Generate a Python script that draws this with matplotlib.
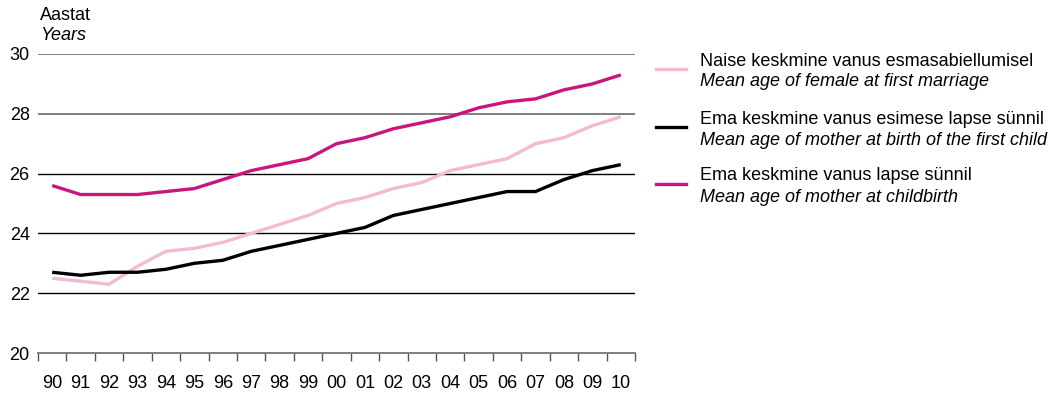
import matplotlib
matplotlib.use("Agg")
import matplotlib.pyplot as plt
import numpy as np
from matplotlib.lines import Line2D

plt.rcParams["font.family"] = ["Liberation Sans", "DejaVu Sans"]

years = ["90", "91", "92", "93", "94", "95", "96", "97", "98", "99", "00",
         "01", "02", "03", "04", "05", "06", "07", "08", "09", "10"]

marriage = [22.5, 22.4, 22.3, 22.9, 23.4, 23.5, 23.7, 24.0, 24.3, 24.6, 25.0,
            25.2, 25.5, 25.7, 26.1, 26.3, 26.5, 27.0, 27.2, 27.6, 27.9]
first_child = [22.7, 22.6, 22.7, 22.7, 22.8, 23.0, 23.1, 23.4, 23.6, 23.8, 24.0,
               24.2, 24.6, 24.8, 25.0, 25.2, 25.4, 25.4, 25.8, 26.1, 26.3]
childbirth = [25.6, 25.3, 25.3, 25.3, 25.4, 25.5, 25.8, 26.1, 26.3, 26.5, 27.0,
              27.2, 27.5, 27.7, 27.9, 28.2, 28.4, 28.5, 28.8, 29.0, 29.3]

labels_et = ["Naise keskmine vanus esmasabiellumisel",
             "Ema keskmine vanus esimese lapse sünnil",
             "Ema keskmine vanus lapse sünnil"]
labels_en = ["Mean age of female at first marriage",
             "Mean age of mother at birth of the first child",
             "Mean age of mother at childbirth"]

PINK = "#F3B9D5"
BLACK = "#000000"
MAGENTA = "#C8157F"
colors = [PINK, BLACK, MAGENTA]
FS = 13

fig = plt.figure(figsize=(10.63, 3.93), dpi=100)
ax = fig.add_axes([38 / 1063, 1 - 353 / 393, 597 / 1063, 299 / 393])

x = np.arange(len(years))
for vals, c in zip([marriage, first_child, childbirth], colors):
    ax.plot(x, vals, color=c, lw=2.4, solid_capstyle="butt", zorder=3)

ax.set_xlim(-0.5, len(years) - 0.5)
ax.set_ylim(20, 30)

# horizontal grid lines
for yv in [22, 24, 26]:
    ax.axhline(yv, color="black", lw=1.0, zorder=1)
for yv in [28, 30]:
    ax.axhline(yv, color="#7f7f7f", lw=1.4, zorder=1)

for s in ["top", "right", "left"]:
    ax.spines[s].set_visible(False)
ax.spines["bottom"].set_color("#7f7f7f")
ax.spines["bottom"].set_linewidth(1.4)

ax.set_yticks([20, 22, 24, 26, 28, 30])
ax.tick_params(axis="y", length=0, labelsize=FS, pad=6)
ax.set_xticks(x)
ax.set_xticklabels(years)
ax.set_xticks(np.arange(-0.5, len(years)), minor=True)
ax.tick_params(axis="x", which="major", length=0, labelsize=FS, pad=16)
ax.tick_params(axis="x", which="minor", length=6, width=1, color="#555555",
               direction="out")

fig.text(40 / 1063, 1 - 15 / 393, "Aastat", fontsize=FS, va="center")
fig.text(40 / 1063, 1 - 36 / 393, "Years", fontsize=FS, style="italic", va="center")

# legend
rows = [61, 119, 176]
for r, c, et, en in zip(rows, colors, labels_et, labels_en):
    yl = 1 - (r + 8) / 393
    fig.add_artist(Line2D([656 / 1063, 686 / 1063], [yl, yl], color=c, lw=2.4,
                          transform=fig.transFigure))
    fig.text(700 / 1063, 1 - r / 393, et, fontsize=FS, va="center")
    fig.text(700 / 1063, 1 - (r + 21) / 393, en, fontsize=FS, style="italic",
             va="center")

fig.savefig("out.png", dpi=100)
